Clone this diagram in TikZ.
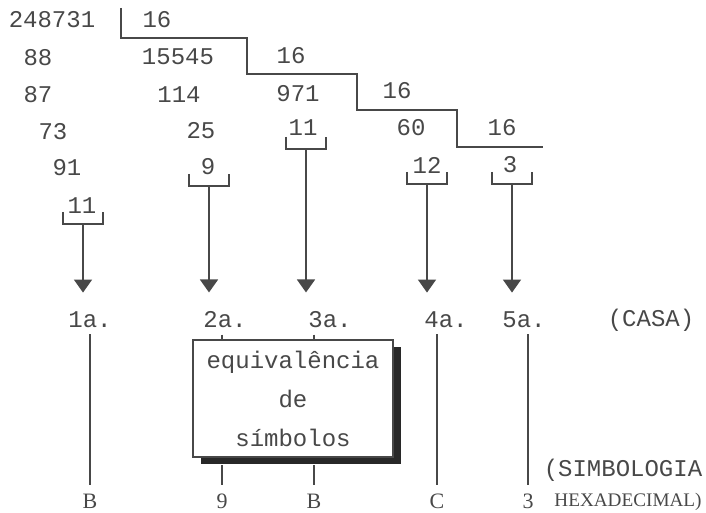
\documentclass[tikz,border=0pt]{standalone}
\usepackage{fontspec}
\setmainfont{Liberation Serif}
\setmonofont{Liberation Mono}
\usepackage{tikz}
\usetikzlibrary{arrows.meta, positioning, shadows}
\definecolor{tinta}{RGB}{72,72,72}
\definecolor{sombra}{RGB}{40,40,40}
\tikzset{
    numero/.style={font=\ttfamily\fontsize{12}{14}\selectfont, text=tinta, inner sep=0pt},
    casa/.style={font=\ttfamily\fontsize{12}{14}\selectfont, text=tinta, inner sep=3pt},
    saida/.style={font=\rmfamily\fontsize{11}{13}\selectfont, text=tinta, inner sep=4pt},
    equiv/.style={rectangle, draw=tinta, fill=white, line width=1pt, minimum width=100pt, minimum height=58.5pt, align=center, font=\ttfamily\fontsize{12}{19.5}\selectfont, text=tinta, drop shadow={shadow xshift=4pt, shadow yshift=-3.5pt, fill=sombra, opacity=1}},
    divisao/.style={draw=tinta, line width=0.9pt},
    chave/.style={draw=tinta, line width=0.8pt},
    seta/.style={-{Triangle[width=9pt,length=6.5pt]}, draw=tinta, fill=tinta, line width=0.8pt, shorten >=6.5pt},
    fio/.style={draw=tinta, line width=0.6pt}
}

\begin{document}
\begin{tikzpicture}[x=0.5pt, y=-0.5pt]
\useasboundingbox (0,0) rectangle (706,513);

% divisoes sucessivas por 16
\node[numero] (a1) at (52,20) {248731};
\node[numero] (a2) at (38,58) {88};
\node[numero] (a3) at (38,95) {87};
\node[numero] (a4) at (53,132) {73};
\node[numero] (a5) at (67,168) {91};
\node[numero] (r1) at (82,206) {11};

\node[numero] (b1) at (157,20) {16};
\node[numero] (b2) at (178,57) {15545};
\node[numero] (b3) at (179,95) {114};
\node[numero] (b4) at (201,131) {25};
\node[numero] (r2) at (208,167) {9};

\node[numero] (c1) at (291,56) {16};
\node[numero] (c2) at (298,94) {971};
\node[numero] (r3) at (303,128) {11};

\node[numero] (d1) at (397,91) {16};
\node[numero] (d2) at (411,128) {60};
\node[numero] (r4) at (427,165) {12};

\node[numero] (e1) at (502,128) {16};
\node[numero] (r5) at (510,165) {3};

\draw[divisao] (121,8) |- (247,38) |- (357,74) |- (457,110) |- (543,147);

% chaves dos restos
\coordinate (k1) at (83,224);
\coordinate (k2) at (209,186);
\coordinate (k3) at (306,149);
\coordinate (k4) at (427,184);
\coordinate (k5) at (512,184);
\draw[chave] ([shift={(-20,-12)}]k1) -- ++(0,12) -- ++(40,0) -- ++(0,-12);
\draw[chave] ([shift={(-20,-12)}]k2) -- ++(0,12) -- ++(40,0) -- ++(0,-12);
\draw[chave] ([shift={(-20,-12)}]k3) -- ++(0,12) -- ++(40,0) -- ++(0,-12);
\draw[chave] ([shift={(-20,-12)}]k4) -- ++(0,12) -- ++(40,0) -- ++(0,-12);
\draw[chave] ([shift={(-20,-12)}]k5) -- ++(0,12) -- ++(40,0) -- ++(0,-12);

% casas
\node[casa] (l1) at (90,320) {1a.};
\node[casa] (l2) at (225,320) {2a.};
\node[casa] (l3) at (330,320) {3a.};
\node[casa] (l4) at (446,320) {4a.};
\node[casa] (l5) at (524,320) {5a.};
\node[casa] (lcasa) at (651,320) {(CASA)};

\draw[seta] (k1) -- (k1 |- l1.north);
\draw[seta] (k2) -- (k2 |- l2.north);
\draw[seta] (k3) -- (k3 |- l3.north);
\draw[seta] (k4) -- (k4 |- l4.north);
\draw[seta] (k5) -- (k5 |- l5.north);

\node[equiv] (eqv) at (293,398.5) {equival\^encia\\de\\s\'{\i}mbolos};

% simbologia hexadecimal
\node[saida] (o1) at (90,501) {B};
\node[saida] (o2) at (222,501) {9};
\node[saida] (o3) at (314,501) {B};
\node[saida] (o4) at (437,501) {C};
\node[saida] (o5) at (528,501) {3};
\node[font=\ttfamily\fontsize{12}{14}\selectfont, text=tinta, inner sep=0pt] (hx1) at (623,470) {(SIMBOLOGIA};
\node[font=\rmfamily\fontsize{9.6}{12}\selectfont, text=tinta, inner sep=0pt] (hx2) at (628,502) {HEXADECIMAL)};

\draw[fio] (o1.north |- l1.south) -- (o1.north);
\draw[fio] (o2.north |- l2.south) -- (o2.north |- eqv.north);
\draw[fio] (o3.north |- l3.south) -- (o3.north |- eqv.north);
\draw[fio, shorten <=3.5pt] (o2.north |- eqv.south) -- (o2.north);
\draw[fio, shorten <=3.5pt] (o3.north |- eqv.south) -- (o3.north);
\draw[fio] (o4.north |- l4.south) -- (o4.north);
\draw[fio] (o5.north |- l5.south) -- (o5.north);

\end{tikzpicture}
\end{document}
